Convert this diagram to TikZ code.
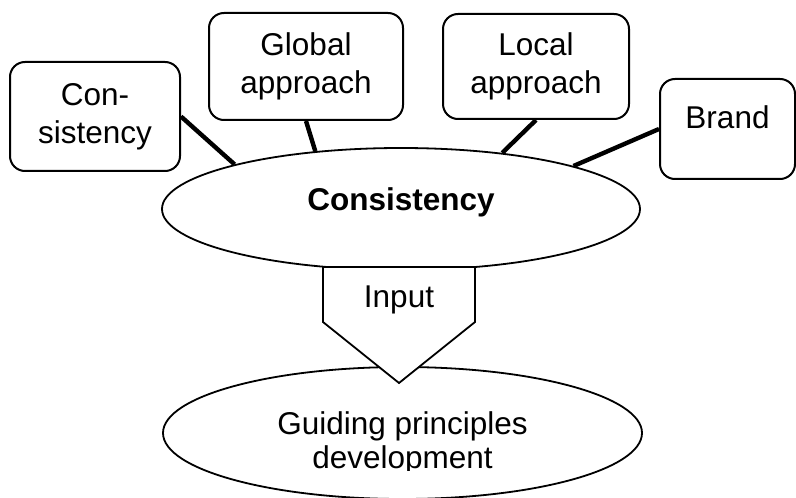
\documentclass[tikz,border=0pt]{standalone}
\usepackage{fontspec}
\setmainfont{Liberation Sans}
\usetikzlibrary{shapes.geometric}

\begin{document}
\begin{tikzpicture}[x=0.5pt,y=-0.5pt,
		box/.style={draw, line width=1pt, rounded corners=7.5pt, align=center, inner sep=2pt, font=\fontsize{15.75}{19}\selectfont},
		oval/.style={draw, ellipse, line width=0.9pt, inner sep=0pt, fill=white},
		link/.style={line width=2.2pt}]
		\useasboundingbox (0,0) rectangle (796,497);
		% the two ellipses
		\node[oval, minimum width=239pt, minimum height=61pt, font=\bfseries\fontsize{15.75}{19}\selectfont, text height=11.6pt, text depth=10.6pt] (core) at (401,209) {Consistency};
		\node[oval, minimum width=239.5pt, minimum height=66pt] (guide) at (402.5,433) {};
		\begin{scope}
			\clip (0,0) rectangle (796,470);
			\node[align=center, font=\fontsize{15.75}{17}\selectfont] (guidetext) at (402.5,443) {Guiding principles\\development};
		\end{scope}
		% boxes on top
		\node[box, minimum width=85pt, minimum height=54.5pt] (cons) at (95,116.5) {Con-\\sistency};
		\node[box, minimum width=97pt, minimum height=53.5pt] (global) at (306,66.5) {Global\\approach};
		\node[box, minimum width=93pt, minimum height=52.5pt] (local) at (536,66.5) {Local\\approach};
		\node[box, minimum width=67.5pt, minimum height=50pt, text height=8pt, text depth=8pt] (brand) at (727.5,129) {Brand};
		\draw[link] (cons.east) -- (core.165.7);
		\draw[link] (global.south) -- (core.146.9);
		\draw[link] (local.south) -- (core.29.5);
		\draw[link] (brand.west) -- (core.14.3);
		% input arrow
		\draw[line width=0.9pt, fill=white] (323,267) -- (475,267) -- (475,322) -- (399,383) -- (323,322) -- cycle;
		\node[font=\fontsize{15.75}{19}\selectfont] (input) at (399,300) {Input};
		\end{tikzpicture}
\end{document}
